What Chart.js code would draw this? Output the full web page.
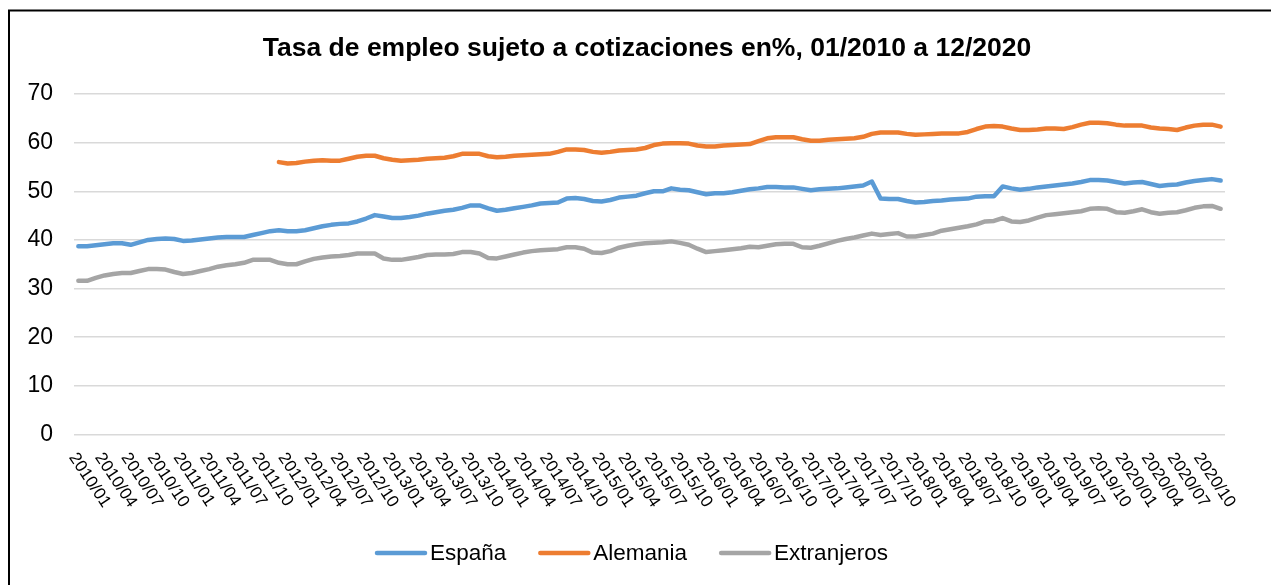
<!DOCTYPE html>
<html>
<head>
<meta charset="utf-8">
<script src="https://cdn.jsdelivr.net/npm/chart.js@4.4.1/dist/chart.umd.min.js"></script>
<style>
  html, body { margin: 0; padding: 0; background: #fff; }
  #wrap { width: 1271px; height: 585px; position: relative; }
</style>
</head>
<body>
<div id="wrap"><canvas id="chart"></canvas></div>
<script>
const TITLE = 'Tasa de empleo sujeto a cotizaciones en%, 01/2010 a 12/2020';
const YEARS = [2010, 2011, 2012, 2013, 2014, 2015, 2016, 2017, 2018, 2019, 2020];
const MONTHS = ['01', '02', '03', '04', '05', '06', '07', '08', '09', '10', '11', '12'];
const Y_TICKS = [0, 10, 20, 30, 40, 50, 60, 70];
const SERIES_NAMES = ['España', 'Alemania', 'Extranjeros'];
const SERIES_COLORS = ['#5B9BD5', '#ED7D31', '#A5A5A5'];

// one row per year, Jan..Dec
const espana = [
    38.7, 38.7, 38.9, 39.1, 39.3, 39.3, 39.0, 39.5, 40.0, 40.2, 40.3, 40.2,
    39.8, 39.9, 40.1, 40.3, 40.5, 40.6, 40.6, 40.6, 41.0, 41.4, 41.8, 42.0,
    41.8, 41.8, 42.0, 42.4, 42.8, 43.1, 43.3, 43.4, 43.8, 44.4, 45.1, 44.8,
    44.5, 44.5, 44.7, 45.0, 45.4, 45.7, 46.0, 46.2, 46.6, 47.1, 47.1, 46.5,
    46.0, 46.2, 46.5, 46.8, 47.1, 47.5, 47.6, 47.7, 48.5, 48.6, 48.4, 48.0,
    47.9, 48.2, 48.7, 48.9, 49.1, 49.6, 50.0, 50.0, 50.6, 50.3, 50.2, 49.8,
    49.4, 49.6, 49.6, 49.8, 50.1, 50.4, 50.6, 50.9, 50.9, 50.8, 50.8, 50.5,
    50.2, 50.4, 50.5, 50.6, 50.8, 51.0, 51.2, 52.0, 48.5, 48.4, 48.4, 48.0,
    47.7, 47.8, 48.0, 48.1, 48.3, 48.4, 48.5, 48.9, 49.0, 49.0, 51.0, 50.6,
    50.3, 50.5, 50.8, 51.0, 51.2, 51.4, 51.6, 51.9, 52.3, 52.3, 52.2, 51.9,
    51.6, 51.8, 51.9, 51.5, 51.1, 51.3, 51.4, 51.8, 52.1, 52.3, 52.5, 52.2
];
const alemania = [
    null, null, null, null, null, null, null, null, null, null, null, null,
    null, null, null, null, null, null, null, null, null, null, null, 56.0,
    55.7, 55.8, 56.1, 56.3, 56.4, 56.3, 56.3, 56.7, 57.1, 57.3, 57.3, 56.8,
    56.5, 56.3, 56.4, 56.5, 56.7, 56.8, 56.9, 57.2, 57.7, 57.7, 57.7, 57.2,
    57.0, 57.1, 57.3, 57.4, 57.5, 57.6, 57.7, 58.1, 58.6, 58.6, 58.5, 58.1,
    57.9, 58.1, 58.4, 58.5, 58.6, 58.9, 59.5, 59.8, 59.9, 59.9, 59.8, 59.4,
    59.2, 59.2, 59.4, 59.5, 59.6, 59.7, 60.3, 60.9, 61.1, 61.1, 61.1, 60.7,
    60.4, 60.4, 60.6, 60.7, 60.8, 60.9, 61.2, 61.8, 62.1, 62.1, 62.1, 61.8,
    61.6, 61.7, 61.8, 61.9, 61.9, 61.9, 62.2, 62.8, 63.3, 63.4, 63.3, 62.9,
    62.6, 62.6, 62.7, 62.9, 62.9, 62.8, 63.2, 63.7, 64.1, 64.1, 64.0, 63.7,
    63.5, 63.5, 63.5, 63.1, 62.9, 62.8, 62.6, 63.1, 63.5, 63.7, 63.7, 63.3
];
const extranjeros = [
    31.6, 31.6, 32.2, 32.7, 33.0, 33.2, 33.2, 33.6, 34.0, 34.0, 33.9, 33.4,
    33.0, 33.2, 33.6, 34.0, 34.5, 34.8, 35.0, 35.3, 35.9, 35.9, 35.9, 35.3,
    35.0, 35.0, 35.6, 36.1, 36.4, 36.6, 36.7, 36.9, 37.2, 37.2, 37.2, 36.2,
    35.9, 35.9, 36.2, 36.5, 36.9, 37.0, 37.0, 37.1, 37.5, 37.5, 37.2, 36.3,
    36.2, 36.6, 37.0, 37.4, 37.7, 37.9, 38.0, 38.1, 38.5, 38.5, 38.2, 37.4,
    37.3, 37.7, 38.4, 38.8, 39.1, 39.3, 39.4, 39.5, 39.7, 39.4, 39.0, 38.2,
    37.5, 37.7, 37.9, 38.1, 38.3, 38.6, 38.5, 38.8, 39.1, 39.2, 39.2, 38.5,
    38.4, 38.8, 39.3, 39.8, 40.2, 40.5, 40.9, 41.3, 41.0, 41.2, 41.4, 40.7,
    40.7, 41.0, 41.3, 41.9, 42.2, 42.5, 42.8, 43.2, 43.8, 43.9, 44.5, 43.8,
    43.7, 44.0, 44.6, 45.1, 45.3, 45.5, 45.7, 45.9, 46.4, 46.5, 46.4, 45.7,
    45.6, 45.9, 46.3, 45.7, 45.4, 45.6, 45.7, 46.1, 46.6, 46.9, 47.0, 46.4
];

const labels = [];
YEARS.forEach(y => MONTHS.forEach(m => labels.push(y + '/' + m)));

const FONT = '"Liberation Sans", Arial, Helvetica, sans-serif';
Chart.defaults.font.family = FONT;
Chart.defaults.color = '#000';

const frame = {
    id: 'frame',
    beforeDraw(chart) {
        const { ctx, width, height } = chart;
        ctx.save();
        ctx.fillStyle = '#fff';
        ctx.fillRect(0, 0, width, height);
        ctx.strokeStyle = '#000';
        ctx.lineWidth = 2;
        ctx.strokeRect(9, 10.5, width + 20, height + 20);
        ctx.restore();
    },
    afterDraw(chart) {
        const { ctx } = chart;
        const xs = chart.scales.x;
        ctx.save();
        // title
        ctx.fillStyle = '#000';
        ctx.font = 'bold 26.5px ' + FONT;
        ctx.textAlign = 'center';
        ctx.textBaseline = 'alphabetic';
        ctx.fillText(TITLE, 647, 56);

        // x labels, every third month, rotated clockwise
        ctx.font = '17px ' + FONT;
        ctx.textAlign = 'left';
        ctx.textBaseline = 'top';
        const ang = 56 * Math.PI / 180;
        labels.forEach((lab, i) => {
            if (i % 3 !== 0) return;
            const x = xs.getPixelForValue(i);
            ctx.save();
            ctx.translate(x + 1, 450);
            ctx.rotate(ang);
            ctx.fillText(lab, 0, 0);
            ctx.restore();
        });

        // legend
        ctx.font = '22.5px ' + FONT;
        ctx.textBaseline = 'middle';
        let lx = 375;
        const ly = 553;
        chart.data.datasets.forEach(ds => {
            ctx.strokeStyle = ds.borderColor;
            ctx.lineWidth = 4.5;
            ctx.lineCap = 'round';
            ctx.beginPath();
            ctx.moveTo(lx + 2, ly);
            ctx.lineTo(lx + 50, ly);
            ctx.stroke();
            ctx.fillStyle = '#000';
            ctx.fillText(ds.label, lx + 55, ly + 1);
            lx += 55 + ctx.measureText(ds.label).width + 32;
        });
        ctx.restore();
    }
};

const seriesData = [espana, alemania, extranjeros];

new Chart(document.getElementById('chart'), {
    type: 'line',
    data: {
        labels: labels,
        datasets: SERIES_NAMES.map((name, k) => ({
            label: name,
            data: seriesData[k],
            borderColor: SERIES_COLORS[k],
            backgroundColor: SERIES_COLORS[k],
            borderWidth: 4.5,
            pointRadius: 0,
            tension: 0,
            borderCapStyle: 'round',
            borderJoinStyle: 'round',
            spanGaps: false
        }))
    },
    options: {
        responsive: true,
        maintainAspectRatio: false,
        animation: false,
        devicePixelRatio: 1,
        layout: { padding: { left: 0, right: 46, top: 94, bottom: 150.5 } },
        plugins: {
            legend: { display: false },
            title: { display: false },
            tooltip: { enabled: false }
        },
        scales: {
            x: {
                type: 'category',
                offset: true,
                afterFit: s => { s.height = 0; },
                grid: { display: false, drawTicks: false },
                border: { display: false },
                ticks: { display: false }
            },
            y: {
                min: 0,
                max: 70,
                afterBuildTicks: s => { s.ticks = Y_TICKS.map(v => ({ value: v })); },
                afterFit: s => { s.width = 74; },
                grid: { color: '#D9D9D9', lineWidth: 1.5, drawTicks: false },
                border: { display: false },
                ticks: {
                    padding: 21,
                    color: '#000',
                    font: { size: 23 }
                }
            }
        }
    },
    plugins: [frame]
});
</script>
</body>
</html>
